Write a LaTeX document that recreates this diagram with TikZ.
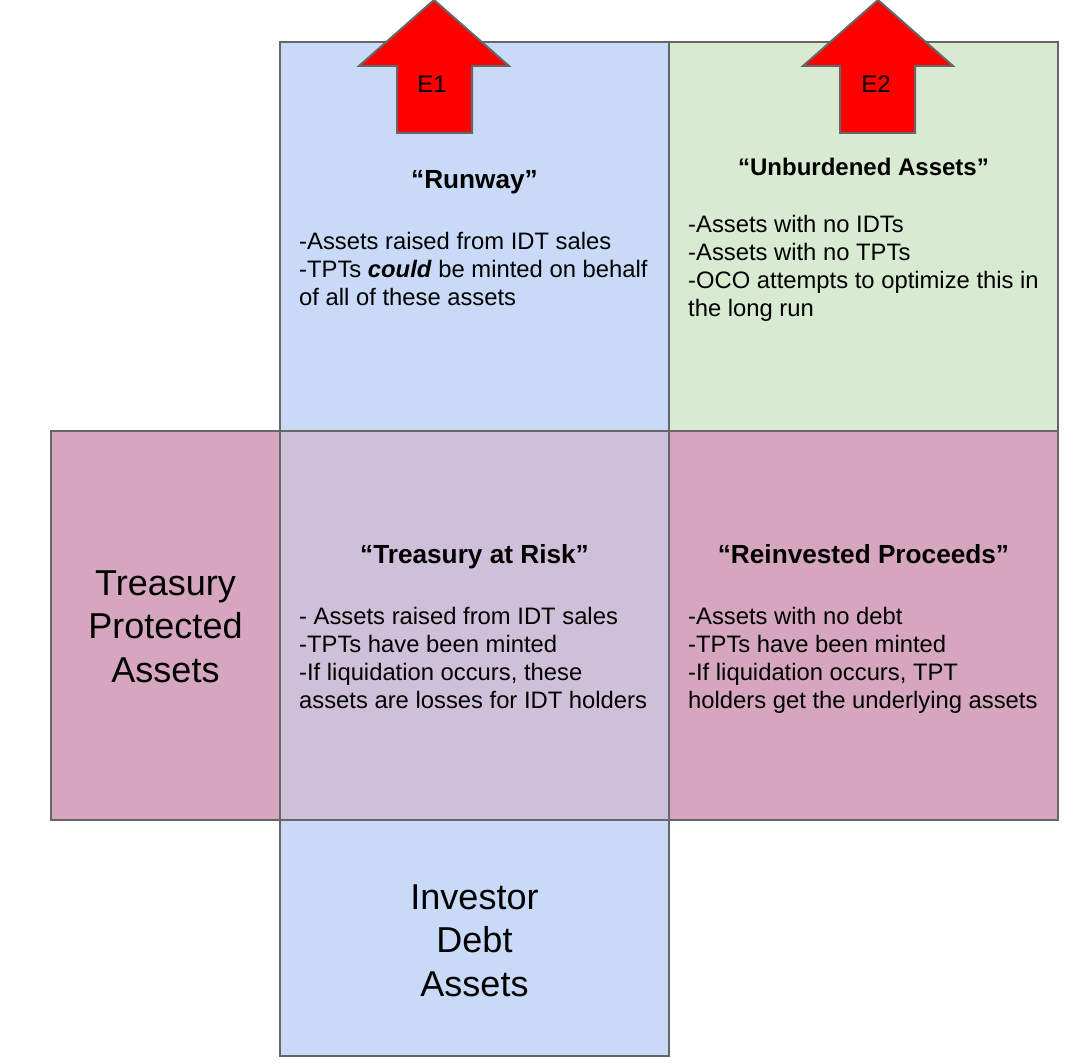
\documentclass[tikz,border=0pt]{standalone}
\usepackage{fontspec}
\setmainfont{Liberation Sans}
\definecolor{cblue}{HTML}{C9DAF8}
\definecolor{cgreen}{HTML}{D9EAD3}
\definecolor{cpink}{HTML}{D5A6BD}
\definecolor{clav}{HTML}{CFC0DA}
\definecolor{cedge}{HTML}{666666}
\definecolor{cred}{HTML}{FF0000}
\tikzset{
  cell/.style={draw=cedge, line width=2pt, rectangle, inner sep=0pt},
  ttl/.style={anchor=base, inner sep=0pt, font=\fontsize{26.2}{30}\selectfont\bfseries},
  ttlsmall/.style={anchor=base, inner sep=0pt, font=\fontsize{24}{28}\selectfont\bfseries},
  body/.style={anchor=north west, inner sep=0pt, align=left, font=\fontsize{23.8}{28}\selectfont},
  big/.style={anchor=north, inner sep=0pt, align=center, font=\fontsize{36}{43.6}\selectfont},
  arrowshape/.style={fill=cred, draw=cedge, line width=2pt, line join=miter},
  elabel/.style={inner sep=0pt, font=\fontsize{24}{28}\selectfont},
}
\begin{document}
\begin{tikzpicture}[x=1pt,y=-1pt]
\useasboundingbox (0,0) rectangle (1080,1064);
% cells
\node[cell, fill=cblue, minimum width=389pt, minimum height=389pt] (runway) at (474.5,236.5) {};
\node[cell, fill=cgreen, minimum width=389pt, minimum height=389pt] (unburd) at (863.5,236.5) {};
\node[cell, fill=cpink, minimum width=229pt, minimum height=389pt] (tpa) at (165.5,625.5) {};
\node[cell, fill=clav, minimum width=389pt, minimum height=389pt] (risk) at (474.5,625.5) {};
\node[cell, fill=cpink, minimum width=389pt, minimum height=389pt] (reinv) at (863.5,625.5) {};
\node[cell, fill=cblue, minimum width=389pt, minimum height=236pt] (ida) at (474.5,938) {};
% titles
\node[ttl] (t1) at (474.5,189) {“Runway”};
\node[ttlsmall] (t2) at (863.5,176) {“Unburdened Assets”};
\node[ttl] (t3) at (474.5,564) {“Treasury at Risk”};
\node[ttl] (t4) at (863.5,564) {“Reinvested Proceeds”};
% bodies
\node[body] (b1) at (299,229.4) {\strut-Assets raised from IDT sales\\-TPTs \textbf{\textit{could}} be minted on behalf\\of all of these assets};
\node[body] (b2) at (688,212.4) {\strut-Assets with no IDTs\\-Assets with no TPTs\\-OCO attempts to optimize this in\\the long run};
\node[body] (b3) at (299,604.4) {\strut- Assets raised from IDT sales\\-TPTs have been minted\\-If liquidation occurs, these\\assets are losses for IDT holders};
\node[body] (b4) at (688,604.4) {\strut-Assets with no debt\\-TPTs have been minted\\-If liquidation occurs, TPT\\holders get the underlying assets};
% big labels
\node[big] (l1) at (165.5,564.5) {\strut Treasury\\Protected\\Assets};
\node[big] (l2) at (474.5,878.5) {\strut Investor\\Debt\\Assets};
% arrows
\draw[arrowshape] (434,0) -- (509,66) -- (472,66) -- (472,133) -- (397,133) -- (397,66) -- (359,66) -- cycle;
\node[elabel] (e1) at (432,84) {E1};
\draw[arrowshape] (878,0) -- (953,66) -- (915,66) -- (915,133) -- (840,133) -- (840,66) -- (803,66) -- cycle;
\node[elabel] (e2) at (876,84) {E2};
\end{tikzpicture}
\end{document}
